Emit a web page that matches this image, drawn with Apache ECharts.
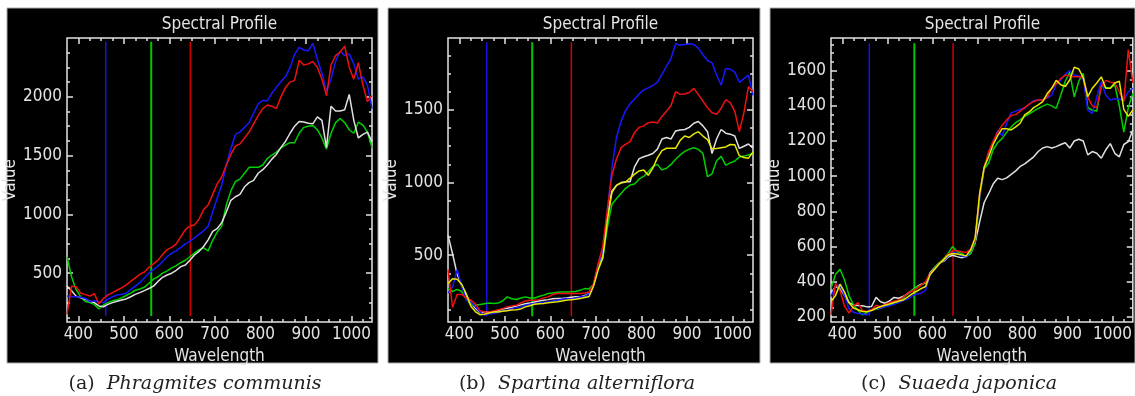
<!DOCTYPE html>
<html>
<head>
<meta charset="utf-8">
<title>Spectral Profile</title>
<script src="https://cdn.jsdelivr.net/npm/echarts@6/dist/echarts.min.js"></script>
<style>
  html, body { margin: 0; padding: 0; background: #fff; }
  #chart { width: 1135px; height: 396px; }
</style>
</head>
<body>
<div id="chart"></div>
<script>
// wavelength of each band (nm)
var wavelength = [375,385,395,405,415,425,435,445,455,465,475,485,495,505,515,525,535,545,555,565,
  575,585,595,605,615,625,635,645,655,665,675,685,695,705,715,725,735,745,755,765,
  775,785,795,805,815,825,835,845,855,865,875,885,895,905,915,925,935,945,955,965,
  975,985,995,1005,1015,1025,1035,1045];

// (a) Phragmites communis
var aRed = [150,390,385,330,320,305,325,240,285,315,335,355,375,400,430,460,490,510,550,580,
  610,660,700,720,750,810,870,900,910,960,1040,1080,1170,1260,1320,1420,1510,1580,1600,1650,
  1700,1770,1840,1900,1930,1920,1900,2000,2080,2125,2140,2310,2270,2280,2300,2250,2150,2010,2270,2350,
  2380,2430,2250,2150,2290,2100,1960,2010];
var aBlue = [305,300,300,295,285,260,265,255,250,280,300,315,320,330,360,390,420,460,500,530,
  560,600,640,670,690,720,750,770,800,830,860,900,1020,1140,1250,1420,1560,1680,1700,1740,
  1780,1860,1940,1970,1965,2030,2080,2130,2170,2250,2360,2420,2400,2390,2455,2320,2200,2050,2150,2300,
  2390,2350,2365,2280,2150,2170,2100,1900];
var aWhite = [390,350,305,290,278,262,250,222,215,235,250,262,272,281,300,320,335,352,370,390,
  430,465,485,500,525,556,570,610,655,685,727,784,855,880,930,1020,1120,1150,1170,1235,
  1270,1290,1350,1380,1420,1470,1510,1570,1620,1690,1750,1790,1785,1775,1770,1830,1800,1570,1920,1880,
  1880,1890,2020,1800,1650,1680,1700,1620];
var aGreen = [640,470,360,300,260,250,235,195,230,250,265,275,290,310,330,355,365,380,415,450,
  470,500,520,545,565,590,610,640,670,700,715,690,780,850,900,1080,1200,1280,1300,1350,
  1400,1400,1400,1420,1475,1505,1530,1565,1590,1610,1610,1690,1740,1750,1755,1720,1650,1555,1690,1780,
  1815,1780,1720,1690,1785,1760,1700,1566];

// (b) Spartina alterniflora
var bRed = [400,140,230,230,205,190,165,120,109,109,116,125,132,144,151,155,171,185,190,190,
  194,206,213,229,236,236,236,236,236,236,240,247,305,443,560,810,1050,1160,1240,1262,
  1282,1345,1380,1390,1412,1416,1410,1455,1490,1530,1625,1607,1610,1620,1648,1605,1560,1515,1480,1470,
  1510,1570,1550,1490,1351,1480,1660,1627];
var bBlue = [240,280,400,290,190,178,145,110,88,95,98,105,116,121,132,139,144,155,162,167,
  171,176,178,185,190,197,201,197,206,213,217,236,305,440,520,800,1100,1310,1420,1495,
  1542,1575,1610,1638,1652,1668,1690,1745,1800,1855,1955,1945,1950,1955,1950,1925,1880,1840,1825,1740,
  1670,1785,1780,1760,1690,1715,1740,1600];
var bWhite = [638,510,370,290,225,175,135,105,108,109,109,118,130,135,140,150,158,165,170,178,
  185,190,194,200,201,202,206,210,213,213,222,236,300,430,510,780,940,980,1000,1006,
  1006,1110,1165,1178,1188,1200,1230,1300,1310,1300,1355,1362,1365,1380,1408,1420,1390,1350,1200,1300,
  1365,1340,1333,1320,1235,1250,1265,1236];
var bYellow = [305,338,335,300,235,150,112,90,94,102,109,109,114,118,122,124,130,144,152,162,
  166,168,172,176,180,185,190,194,196,201,208,215,290,400,480,740,930,980,996,1004,
  1030,1058,1080,1086,1050,1100,1170,1220,1236,1236,1236,1290,1320,1310,1335,1350,1320,1295,1232,1234,
  1240,1245,1262,1260,1185,1172,1168,1210];
var bGreen = [270,250,265,250,200,160,155,160,165,170,168,170,185,213,200,195,205,213,205,205,
  215,225,236,240,244,247,247,248,250,258,270,268,300,420,480,690,850,888,925,960,
  983,990,1025,1042,1075,1110,1125,1087,1098,1125,1160,1190,1215,1230,1240,1228,1200,1040,1060,1150,
  1180,1120,1135,1148,1175,1182,1190,1201];

// (c) Suaeda japonica
var cRed = [210,390,350,260,220,260,280,235,230,240,265,255,270,280,288,295,310,335,345,360,
  380,400,445,470,500,525,555,575,575,570,565,585,640,900,1050,1140,1200,1250,1290,1320,
  1345,1350,1370,1390,1410,1425,1433,1433,1450,1500,1525,1555,1575,1570,1566,1566,1560,1450,1400,1390,
  1510,1545,1535,1530,1480,1425,1720,1530];
var cBlue = [315,375,380,320,245,225,218,216,210,238,245,250,258,262,270,280,292,300,318,328,
  334,350,440,470,500,520,545,570,562,545,540,575,640,880,1050,1130,1190,1260,1230,1300,
  1360,1370,1380,1386,1410,1430,1433,1433,1445,1460,1525,1545,1580,1600,1576,1570,1550,1376,1357,1450,
  1538,1460,1433,1440,1438,1433,1480,1500];
var cWhite = [334,372,360,320,280,267,264,262,256,258,310,285,277,290,310,305,315,330,350,370,
  385,392,450,480,505,515,540,550,542,535,542,560,620,740,850,900,955,988,980,990,
  1010,1030,1055,1070,1090,1110,1140,1160,1168,1160,1168,1180,1190,1160,1200,1210,1200,1121,1140,1130,
  1102,1150,1185,1130,1110,1180,1196,1263];
var cYellow = [286,320,385,340,280,250,240,230,229,235,248,258,265,272,281,288,295,312,330,345,
  360,372,440,470,500,525,550,560,557,552,546,580,650,900,1050,1110,1180,1230,1270,1270,
  1263,1280,1301,1348,1365,1390,1405,1424,1470,1500,1545,1520,1510,1547,1620,1610,1560,1452,1500,1530,
  1565,1500,1500,1530,1540,1380,1340,1376];
var cGreen = [360,440,470,410,320,267,235,210,225,238,242,248,258,265,275,290,305,333,350,370,
  380,395,440,480,505,530,560,600,570,560,540,560,620,880,1040,1075,1150,1190,1215,1250,
  1280,1305,1320,1340,1355,1370,1385,1398,1410,1400,1386,1460,1540,1590,1450,1540,1585,1390,1375,1370,
  1515,1505,1500,1520,1400,1250,1390,1470];

// display band markers (nm) and their vertical extent per panel
var bandWavelengths = [460, 560, 646];
var aBandSpan = [136, 2468];
var bBandSpan = [80, 1965];
var cBandSpan = [205, 1756];

// ticks
var xMajor = [400, 500, 600, 700, 800, 900, 1000];
var xMinor = [425,450,475,525,550,575,625,650,675,725,750,775,825,850,875,925,950,975,1025];
var aYMajor = [500, 1000, 1500, 2000];
var aYMinor = [125,250,375,625,750,875,1125,1250,1375,1625,1750,1875,2125,2250,2375];
var bYMajor = [500, 1000, 1500];
var bYMinor = [125,250,375,625,750,875,1125,1250,1375,1625,1750,1875];
var cYMajor = [200, 400, 600, 800, 1000, 1200, 1400, 1600];
var cYMinor = [250,300,350,450,500,550,650,700,750,850,900,950,1050,1100,1150,1250,1300,1350,1450,1500,1550,1650,1700,1750];

var fg = '#e4e4e4';
var labelFont = '"Liberation Sans Narrow", "DejaVu Sans Condensed", "Liberation Sans", sans-serif';
var colors = {red: '#f01010', blue: '#1818ff', white: '#e0e0e0', green: '#00d000', yellow: '#e8e800'};
var bandColors = ['#1414e6', '#00c800', '#d40000'];

var panels = [
  {left: 67, width: 305, box: [7, 371], yMin: 85, yMax: 2500, yMajor: aYMajor, yMinor: aYMinor, span: aBandSpan,
   lines: [['green', aGreen], ['white', aWhite], ['blue', aBlue], ['red', aRed]],
   tag: '(a)  ', name: 'Phragmites communis', capX: 195},
  {left: 448, width: 305, box: [388, 372], yMin: 40, yMax: 1995, yMajor: bYMajor, yMinor: bYMinor, span: bBandSpan,
   lines: [['white', bWhite], ['green', bGreen], ['blue', bBlue], ['red', bRed], ['yellow', bYellow]],
   tag: '(b)  ', name: 'Spartina alterniflora', capX: 577},
  {left: 831, width: 303, box: [770, 365], yMin: 170, yMax: 1786, yMajor: cYMajor, yMinor: cYMinor, span: cBandSpan,
   lines: [['white', cWhite], ['green', cGreen], ['blue', cBlue], ['red', cRed], ['yellow', cYellow]],
   tag: '(c)  ', name: 'Suaeda japonica', capX: 959}
];

var grids = [], xAxes = [], yAxes = [], series = [], graphics = [];
var tickStyle = {color: fg, width: 1.5};
var hiddenLine = {show: true, lineStyle: {color: fg, opacity: 0}};
function plain(v) { return String(v); }

panels.forEach(function (p, i) {
  grids.push({left: p.left, top: 38, width: p.width, height: 284, show: true,
    borderColor: fg, borderWidth: 1.5, backgroundColor: 'transparent'});

  ['bottom', 'top'].forEach(function (pos) {
    xAxes.push({
      gridIndex: i, type: 'value', min: 375, max: 1045, position: pos,
      axisLine: hiddenLine, splitLine: {show: false},
      axisTick: {show: true, inside: true, length: 6, customValues: xMajor, lineStyle: tickStyle},
      axisLabel: {show: pos === 'bottom', customValues: xMajor, formatter: plain, color: fg, fontSize: 17,
        fontFamily: labelFont, margin: 4},
      name: pos === 'bottom' ? 'Wavelength' : '', nameLocation: 'middle', nameGap: 17,
      nameTextStyle: {color: fg, fontSize: 17, fontFamily: labelFont}
    });
    xAxes.push({
      gridIndex: i, type: 'value', min: 375, max: 1045, position: pos,
      axisLine: hiddenLine, splitLine: {show: false}, axisLabel: {show: false},
      axisTick: {show: true, inside: true, length: 3, customValues: xMinor, lineStyle: tickStyle}
    });
  });
  ['left', 'right'].forEach(function (pos) {
    yAxes.push({
      gridIndex: i, type: 'value', min: p.yMin, max: p.yMax, position: pos,
      axisLine: hiddenLine, splitLine: {show: false},
      axisTick: {show: true, inside: true, length: 6, customValues: p.yMajor, lineStyle: tickStyle},
      axisLabel: {show: pos === 'left', customValues: p.yMajor, formatter: plain, color: fg, fontSize: 17,
        fontFamily: labelFont, margin: 5},
      name: pos === 'left' ? 'Value' : '', nameLocation: 'middle', nameGap: 48, nameRotate: 90,
      nameTextStyle: {color: fg, fontSize: 17, fontFamily: labelFont}
    });
    yAxes.push({
      gridIndex: i, type: 'value', min: p.yMin, max: p.yMax, position: pos,
      axisLine: hiddenLine, splitLine: {show: false}, axisLabel: {show: false},
      axisTick: {show: true, inside: true, length: 3, customValues: p.yMinor, lineStyle: tickStyle}
    });
  });

  // band marker lines
  bandWavelengths.forEach(function (w, k) {
    series.push({
      type: 'line', xAxisIndex: i * 4, yAxisIndex: i * 4, silent: true, symbol: 'none',
      lineStyle: {color: bandColors[k], width: k === 1 ? 2 : 1.5},
      data: [[w, p.span[0]], [w, p.span[1]]]
    });
  });

  p.lines.forEach(function (ln) {
    series.push({
      type: 'line', xAxisIndex: i * 4, yAxisIndex: i * 4, symbol: 'none', silent: true,
      lineStyle: {color: colors[ln[0]], width: 1.5},
      data: wavelength.map(function (w, j) { return [w, ln[1][j]]; })
    });
  });

  graphics.push({type: 'rect', z: -1, shape: {x: p.box[0], y: 8, width: p.box[1], height: 355},
    style: {fill: '#000', stroke: '#aaa', lineWidth: 1}});
  graphics.push({type: 'text', x: p.left + p.width / 2, y: 25,
    style: {text: 'Spectral Profile', fill: fg, font: '17px ' + labelFont, textAlign: 'center', textVerticalAlign: 'middle'}});
  graphics.push({type: 'text', x: p.capX, y: 384,
    style: {text: '{t|' + p.tag + '}{n|' + p.name + '}', textAlign: 'center', textVerticalAlign: 'middle',
      rich: {
        t: {fontFamily: '"DejaVu Serif", "Liberation Serif", serif', fontSize: 19, fill: '#222'},
        n: {fontFamily: '"DejaVu Serif", "Liberation Serif", serif', fontSize: 19, fontStyle: 'italic', fill: '#222'}
      }}});
});

var chart = echarts.init(document.getElementById('chart'));
chart.setOption({
  animation: false,
  backgroundColor: '#fff',
  grid: grids,
  xAxis: xAxes,
  yAxis: yAxes,
  series: series,
  graphic: graphics
});
</script>
</body>
</html>
